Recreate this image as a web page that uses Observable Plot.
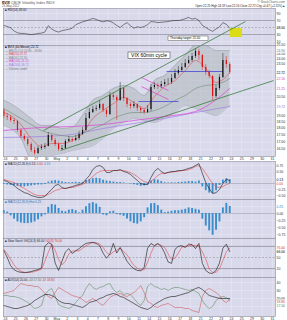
<!DOCTYPE html>
<html>
<head>
<meta charset="utf-8">
<script src="https://cdn.jsdelivr.net/npm/d3@7"></script>
<script src="https://cdn.jsdelivr.net/npm/@observablehq/plot@0.6"></script>
<style>
html,body{margin:0;padding:0;background:#fff;}
#chart{position:relative;width:287px;height:320px;overflow:hidden;}
#chart svg{position:absolute;left:0;overflow:visible;}
</style>
</head>
<body>
<div id="chart"></div>
<script>
// ---------- data (60-minute $VIX, Apr 23 - May 23 2012, 3 samples per session) ----------
const dayLabels = ["24","25","26","27","30","May","2","3","4","7","8","9","10","11","14","15","16","17","18","21","22","23","24","25","29","30","31"];

const firstOpen = 19.39;
const closes = [18.91,
  18.83,18.60,18.52, 17.84,17.40,17.18, 16.83,16.42,16.21, 16.55,16.62,16.69,
  17.47,17.11,16.83, 16.48,16.55,17.04, 17.18,17.11,17.26, 17.55,17.84,18.76,
  19.23,19.47,19.55, 19.88,19.39,19.07, 20.64,20.47,20.22, 21.25,20.38,19.88,
  19.72,19.88,19.55, 19.39,19.23,19.47, 21.34,21.52,21.43, 21.61,21.79,21.79,
  22.16,22.62,22.91, 23.19,23.58,23.88, 24.28,24.79,24.38, 23.19,22.72,22.34,
  20.55,21.25,22.25, 23.88,23.49,22.72];
const highs = [19.55,
  19.15,18.99,18.76, 18.60,17.92,17.55, 17.33,16.97,16.62, 16.69,16.83,16.90,
  17.69,17.55,17.26, 16.97,16.76,17.18, 17.40,17.33,17.47, 17.77,18.07,19.15,
  19.55,19.72,19.80, 20.22,19.96,19.55, 20.90,20.90,20.64, 21.79,21.34,20.47,
  20.05,20.13,19.96, 19.72,19.55,19.80, 21.61,21.79,21.70, 21.88,22.06,22.16,
  22.53,23.00,23.29, 23.58,23.98,24.28, 24.59,25.10,25.00, 24.48,23.49,22.91,
  22.43,21.52,22.53, 24.59,24.28,23.68];
const lows = [18.76,
  18.60,18.45,18.29, 17.69,17.26,17.04, 16.69,16.28,16.08, 16.14,16.42,16.48,
  16.66,16.97,16.69, 16.35,16.42,16.48, 16.97,16.97,17.04, 17.11,17.47,17.77,
  18.68,19.15,19.31, 19.39,19.23,18.83, 18.99,20.22,18.60, 20.13,20.13,19.63,
  19.47,19.55,19.31, 19.15,19.07,19.15, 19.31,21.16,21.16, 21.25,21.43,21.52,
  21.61,22.06,22.43, 22.72,23.10,23.49, 23.68,24.08,23.88, 22.91,22.43,22.16,
  20.22,20.38,21.07, 22.16,23.10,22.53];

// overlays sampled once per session
const bbUpper = [20.22,19.96,19.39,18.76,18.22,18.22,17.99,18.07,18.99,20.22,20.64,21.25,21.52,21.25,20.64,21.97,22.43,23.39,24.38,25.42,25.42,24.90,24.90,24.90];
const bbLower = [18.22,17.99,17.26,15.88,15.75,16.08,16.21,16.42,16.55,16.76,17.26,17.99,18.45,18.76,18.60,18.45,18.76,19.23,19.80,19.55,19.23,18.99,19.55,19.80];
const ma20 = [19.23,18.99,18.29,17.26,16.69,16.90,16.90,17.11,17.62,18.76,19.39,19.96,20.47,20.05,19.55,20.55,21.43,21.97,22.91,23.88,23.10,21.79,22.34,22.72];
const ma50 = [19.55,19.23,18.76,18.29,17.84,17.62,17.47,17.40,17.62,17.99,18.29,18.76,19.07,19.23,19.23,19.39,19.72,20.22,20.64,21.25,21.52,21.61,21.97,22.16];
const slowDays = [-0.17,3.5,6.5,9.5,12.5,15.5,18.5,21.83];
const ma100 = [17.84,18.07,18.14,18.29,18.60,18.91,19.31,21.25];
const ma200 = [17.33,17.40,17.55,17.99,18.37,18.76,19.23,19.72];

// drawn annotations (date position, price)
const channelLines = [{d1:3.70,v1:17.84,d2:23.37,v2:28.09},{d1:5.36,v1:16.42,d2:26.10,v2:21.97}];
const levelLines = [{d1:12.95,d2:16.85,v:20.13},{d1:15.68,d2:21.13,v:22.81}];
const flagLines = [{d1:13.24,v1:22.25,d2:15.87,v2:21.07},{d1:13.24,v1:21.43,d2:15.87,v2:20.30}];
const targetZone = [{d1:21.9,d2:23.08,v1:21.4,v2:47.1}];

// indicators, one per candle
const rsi = [56,53,49,40,35,33,33,31,30,31,33,34,37,55,46,40,37,41,43,45,48,58,62,66,69,72,76,73,69,66,69,68,63,56,50,58,64,55,48,52,50,53,58,67,66,64,65,66,67,69,70,70,72,75,79,74,76,70,56,50,44,39,46,52,64,59,48];
const macdLine = [0.13,0.08,0.0,-0.08,-0.21,-0.29,-0.38,-0.42,-0.5,-0.54,-0.58,-0.58,-0.54,-0.38,-0.25,-0.08,-0.04,-0.17,-0.21,-0.17,-0.13,-0.08,-0.04,0,0.17,0.33,0.58,0.71,0.75,0.67,0.46,0.46,0.54,0.54,0.58,0.5,0.46,0.38,0.25,0.13,0,-0.04,-0.04,0.25,0.5,0.63,0.5,0.42,0.46,0.5,0.5,0.54,0.54,0.58,0.63,0.67,0.75,0.83,0.42,0.04,-0.21,-0.42,-0.38,-0.25,0,0.17,0.13];
const macdSignal = [0.17,0.13,0.08,0.04,-0.04,-0.13,-0.21,-0.29,-0.38,-0.46,-0.5,-0.5,-0.5,-0.46,-0.38,-0.29,-0.25,-0.21,-0.21,-0.17,-0.17,-0.13,-0.08,-0.04,0.04,0.17,0.29,0.42,0.5,0.54,0.54,0.54,0.54,0.54,0.54,0.54,0.5,0.46,0.38,0.29,0.17,0.08,0.04,0.08,0.21,0.33,0.42,0.42,0.46,0.46,0.5,0.5,0.54,0.54,0.58,0.63,0.71,0.75,0.63,0.42,0.21,0,-0.13,-0.17,-0.13,-0.04,0];
const macdHist = [-0.04,-0.06,-0.08,-0.1,-0.12,-0.14,-0.14,-0.12,-0.1,-0.08,-0.06,-0.06,-0.04,0.06,0.1,0.12,0.1,0.06,0.04,0.03,0.04,0.05,0.04,0.05,0.12,0.16,0.2,0.22,0.2,0.14,0.1,0.08,0.06,0.04,0.04,0.02,0,-0.02,-0.05,-0.08,-0.12,-0.1,-0.06,0.1,0.16,0.14,0.08,0.03,0.02,0.03,0.02,0.04,0.05,0.06,0.08,0.08,0.06,0.1,-0.14,-0.3,-0.4,-0.42,-0.3,-0.08,0.14,0.2,0.15];
const hist2 = [0.1,0.05,-0.08,-0.2,-0.3,-0.34,-0.36,-0.36,-0.34,-0.3,-0.22,-0.12,-0.05,0.22,0.32,0.3,0.18,0.08,0.06,0.12,0.14,0.1,0.02,0.12,0.24,0.35,0.39,0.34,0.22,-0.05,-0.08,0.06,0.08,-0.04,-0.06,-0.1,-0.2,-0.3,-0.36,-0.38,-0.3,-0.15,0.2,0.35,0.36,0.28,0.12,0.03,0.05,0.08,0.1,0.1,0.12,0.15,0.2,0.18,0.15,0.12,-0.2,-0.45,-0.62,-0.78,-0.6,-0.3,0.2,0.36,0.25];
const stochK = [69,50,28,17,12,10,9,10,12,15,17,22,80,90,86,35,15,40,65,74,61,68,74,82,88,90,91,88,82,62,48,60,88,62,77,58,40,28,20,15,14,23,75,88,82,88,80,62,38,34,72,80,82,77,86,85,74,88,34,15,8,7,15,35,75,86,66];
const stochD = [72,60,45,30,19,13,10,10,10,12,15,18,40,64,85,70,45,30,40,60,67,68,68,75,81,87,90,90,87,77,64,57,65,70,76,66,58,42,29,21,16,17,37,62,82,86,83,77,60,45,48,62,78,80,82,83,82,82,65,46,19,10,10,19,42,65,76];
const adx = [11.3,10,8.8,7.5,7.5,8.8,10,11.3,13.8,17.5,20,22.5,25,25,23.8,21.3,17.5,15,13.8,13.8,12.5,11.3,10,8.8,11.3,15,16.3,17.5,20,21.3,23.8,25,26.3,25,22.5,21.3,18.8,16.3,13.8,11.3,8.8,7.5,6.3,8.8,12.5,15,17.5,20,21.3,22.5,22.5,23.8,25,26.3,27.5,30,32.5,33.8,31.3,27.5,23.8,22.5,21.3,20,20,20,20];
const plusDI = [23.8,23.8,22.5,22.5,21.3,20,17.5,15,11.3,7.5,8.8,11.3,25,30,32.5,22.5,12.5,10,8.8,7.5,10,15,20,23.8,32.5,38.8,33.8,31.3,33.8,35,37.5,38.8,31.3,27.5,30,25,26.3,25,20,15,11.3,17.5,35,38.8,35,33.8,31.3,32.5,30,32.5,33.8,33.8,32.5,31.3,30,31.3,28.8,26.3,17.5,11.3,7.5,10,17.5,21.3,22.5,21.3,17.5];
const minusDI = [26.3,27.5,28.8,30,35,38.8,37.5,36.3,36.3,35,35,31.3,26.3,22.5,20,27.5,33.8,31.3,28.8,26.3,23.8,22.5,21.3,18.8,15,17.5,20,17.5,13.8,11.3,16.3,21.3,23.8,25,26.3,23.8,22.5,25,27.5,31.3,36.3,27.5,16.3,13.8,10,8.8,11.3,12.5,13.8,11.3,8.8,8.8,8.8,7.5,7.5,5,3.8,2.5,22.5,30,32.5,30,27.5,23.8,17.5,15,18.8];

// ---------- styling / helpers ----------
const BG = "#d9d9ec", GRID = "#e8e8f4", FRAME = "#8a8a9c";
const FONT = "Liberation Sans, Arial, sans-serif";
const W = 287, ML = 3, MR = 12;
const xDomain = [-0.195, 26.29];
const f2 = d3.format(".2f");
const at = k => (k - 0.5) / 3;
const series = arr => arr.map((v, k) => ({d: at(k), v}));
const dayPoints = [-0.17, ...d3.range(22).map(i => i + 0.5), 21.83];
const bands = dayPoints.map((d, i) => ({d, hi: bbUpper[i], lo: bbLower[i], m20: ma20[i], m50: ma50[i]}));
const slow = slowDays.map((d, i) => ({d, m100: ma100[i], m200: ma200[i]}));
const candles = closes.map((c, k) => ({d: at(k), open: k ? closes[k - 1] : firstOpen, close: c, high: highs[k], low: lows[k]}));
const upC = candles.filter(c => c.close >= c.open), dnC = candles.filter(c => c.close < c.open);
const last = a => a[a.length - 1];

function panel({top, height, mb = 0, yDomain, yType = "linear", yTicks, yFmt = f2, xAxis = false, marks, tags = []}) {
  const h = height - mb;
  const ys = (yType === "log" ? d3.scaleLog() : d3.scaleLinear()).domain(yDomain).range([h, 0]);
  // value tags on the right axis: keep them apart, hide tick labels they cover
  const pos = tags.map(t => ({...t, p: ys(t.v)})).sort((a, b) => a.p - b.p);
  for (let i = 1; i < pos.length; i++) if (pos[i].p - pos[i - 1].p < 3.6) pos[i].p = pos[i - 1].p + 3.6;
  const labelTicks = yTicks.filter(t => pos.every(q => Math.abs(ys(t) - q.p) > 3.5));
  const tagMarks = pos.map(q => Plot.text([q.v], {
    x: () => xDomain[1], y: d => d, dy: q.p - ys(q.v), text: d => (q.fmt || yFmt)(d),
    dx: 1, textAnchor: "start", fill: q.color, stroke: "white", strokeWidth: 1.4, fontSize: 3.4
  }));
  const svg = Plot.plot({
    width: W, height, marginLeft: ML, marginRight: MR, marginTop: 0, marginBottom: mb,
    style: {background: "transparent", fontSize: "3.5px", fontFamily: FONT, color: "#333", overflow: "visible"},
    x: {domain: xDomain, axis: xAxis ? "bottom" : null, ticks: d3.range(27), tickFormat: i => dayLabels[i], tickSize: 0, tickPadding: 1.2, label: null},
    y: {type: yType, domain: yDomain, axis: "right", ticks: labelTicks, tickFormat: yFmt, tickSize: 0, tickPadding: 1, label: null},
    marks: [
      Plot.frame({fill: BG}),
      Plot.ruleX(d3.range(27), {stroke: GRID, strokeWidth: 0.5}),
      Plot.ruleY(yTicks, {stroke: GRID, strokeWidth: 0.5}),
      ...marks,
      Plot.frame({stroke: FRAME, strokeWidth: 0.6}),
      ...tagMarks
    ]
  });
  svg.style.top = top + "px";
  document.getElementById("chart").appendChild(svg);
}

// ---------- RSI panel ----------
panel({top: 8, height: 37, yDomain: [-1.4, 104.3], yTicks: [10, 30, 50, 70, 90], yFmt: d3.format("d"),
  tags: [{v: last(rsi), color: "#000", fmt: f2}], marks: [
  Plot.ruleY([30, 70], {stroke: "#7a7a88", strokeWidth: 0.6}),
  Plot.ruleY([50], {stroke: "#7a7a88", strokeWidth: 0.5, strokeDasharray: "2,1.5"}),
  Plot.line(series(rsi), {x: "d", y: "v", stroke: "#222", strokeWidth: 0.55}),
  Plot.rect(targetZone, {x1: "d1", x2: "d2", y1: "v1", y2: "v2", fill: "#dcdc14"})
]});

// ---------- price panel ----------
const priceTicks = d3.range(16.5, 25.51, 0.5);
panel({top: 45, height: 116, mb: 5, yType: "log", yDomain: [16.01, 25.42], yTicks: priceTicks, xAxis: true,
  tags: [
    {v: last(bbUpper), color: "#6d7880"},
    {v: last(closes), color: "#000"},
    {v: last(ma50), color: "#d84a9a"},
    {v: last(ma100), color: "#d040c8"},
    {v: last(ma200), color: "#9070d8"}
  ], marks: [
  Plot.areaY(bands, {x: "d", y1: "lo", y2: "hi", fill: "#a9b3b6", fillOpacity: 0.5, curve: "monotone-x", clip: true}),
  Plot.line(bands, {x: "d", y: "hi", stroke: "#949ea4", strokeWidth: 0.5, curve: "monotone-x", clip: true}),
  Plot.line(bands, {x: "d", y: "lo", stroke: "#949ea4", strokeWidth: 0.5, curve: "monotone-x", clip: true}),
  Plot.line(slow, {x: "d", y: "m200", stroke: "#a07ce6", strokeWidth: 0.7, curve: "monotone-x", clip: true}),
  Plot.line(slow, {x: "d", y: "m100", stroke: "#e040d6", strokeWidth: 0.7, curve: "monotone-x", clip: true}),
  Plot.line(bands, {x: "d", y: "m50", stroke: "#6f8c74", strokeWidth: 0.6, curve: "monotone-x", clip: true}),
  Plot.line(bands, {x: "d", y: "m20", stroke: "#e24a4a", strokeWidth: 0.6, curve: "monotone-x", clip: true}),
  Plot.link(levelLines, {x1: "d1", x2: "d2", y1: "v", y2: "v", stroke: "#4646d8", strokeWidth: 0.8}),
  Plot.link(flagLines, {x1: "d1", x2: "d2", y1: "v1", y2: "v2", stroke: "#e03cc8", strokeWidth: 0.7}),
  Plot.ruleX(upC, {x: "d", y1: "low", y2: "high", stroke: "#111", strokeWidth: 0.45}),
  Plot.ruleX(upC, {x: "d", y1: "open", y2: "close", stroke: "#111", strokeWidth: 1.2}),
  Plot.ruleX(dnC, {x: "d", y1: "low", y2: "high", stroke: "#e01010", strokeWidth: 0.45}),
  Plot.ruleX(dnC, {x: "d", y1: "open", y2: "close", stroke: "#e01010", strokeWidth: 1.2}),
  Plot.link(channelLines, {x1: "d1", x2: "d2", y1: "v1", y2: "v2", stroke: "#3d7d3d", strokeWidth: 0.8})
]});

// ---------- MACD panel ----------
panel({top: 161, height: 38, yDomain: [-0.667, 0.917], yTicks: [-0.5, -0.25, 0, 0.25, 0.5, 0.75],
  tags: [{v: last(macdLine), color: "#000"}, {v: last(macdSignal), color: "#e03030"}], marks: [
  Plot.ruleY([0], {stroke: "#8a8a98", strokeWidth: 0.5}),
  Plot.ruleX(series(macdHist), {x: "d", y1: 0, y2: "v", stroke: "#3a8dcc", strokeWidth: 1.8}),
  Plot.line(series(macdSignal), {x: "d", y: "v", stroke: "#e34a4a", strokeWidth: 0.6}),
  Plot.line(series(macdLine), {x: "d", y: "v", stroke: "#111", strokeWidth: 0.6})
]});

// ---------- histogram panel ----------
panel({top: 199, height: 39, yDomain: [-0.893, 0.5], yTicks: [-0.75, -0.5, -0.25, 0, 0.25],
  tags: [{v: last(hist2), color: "#2a7dbc"}], marks: [
  Plot.ruleY([0], {stroke: "#8a8a98", strokeWidth: 0.5}),
  Plot.ruleX(series(hist2), {x: "d", y1: 0, y2: "v", stroke: "#3a8dcc", strokeWidth: 1.9})
]});

// ---------- stochastic panel ----------
panel({top: 238, height: 39, yDomain: [-4.05, 101.35], yTicks: [20, 50, 80], yFmt: d3.format("d"),
  tags: [{v: last(stochK), color: "#000", fmt: f2}, {v: last(stochD), color: "#e03030", fmt: f2}], marks: [
  Plot.ruleY([20, 80], {stroke: "#6a6a78", strokeWidth: 0.6}),
  Plot.ruleY([50], {stroke: "#7a7a88", strokeWidth: 0.5, strokeDasharray: "2,1.5"}),
  Plot.line(series(stochD), {x: "d", y: "v", stroke: "#e34a4a", strokeWidth: 0.6}),
  Plot.line(series(stochK), {x: "d", y: "v", stroke: "#111", strokeWidth: 0.6})
]});

// ---------- ADX panel ----------
panel({top: 277, height: 43, mb: 4, yDomain: [-2.5, 46.25], yTicks: [10, 20, 30, 40], yFmt: d3.format("d"), xAxis: true,
  tags: [{v: last(adx), color: "#000", fmt: f2}, {v: last(minusDI), color: "#d04040", fmt: f2}, {v: last(plusDI), color: "#4f7f4f", fmt: f2}], marks: [
  Plot.line(series(plusDI), {x: "d", y: "v", stroke: "#5f8f5f", strokeWidth: 0.6}),
  Plot.line(series(minusDI), {x: "d", y: "v", stroke: "#d05a5a", strokeWidth: 0.6}),
  Plot.line(series(adx), {x: "d", y: "v", stroke: "#111", strokeWidth: 0.6})
]});

// ---------- header, legends, annotations ----------
const ov = d3.select("#chart").append("svg").attr("width", 287).attr("height", 320)
  .style("top", "0px").style("font-family", FONT);
function txt(x, y, s, size, fill, o = {}) {
  const t = ov.append("text").attr("x", x).attr("y", y).attr("font-size", size).attr("fill", fill).text(s);
  if (o.anchor) t.attr("text-anchor", o.anchor);
  if (o.bold) t.attr("font-weight", "bold");
  return t;
}
const dOpen = closes[closes.length - 4], dClose = last(closes);
const dHigh = d3.max(highs.slice(-3)), dLow = d3.min(lows.slice(-3));
const chg = dClose - dOpen;

const h1 = txt(2, 3.6, "", 3.6, "#000");
h1.append("tspan").attr("font-weight", "bold").text("$VIX");
h1.append("tspan").attr("fill", "#555").text("  CBOE Volatility Index  INDX");
txt(285, 3.4, "© StockCharts.com", 3.2, "#666", {anchor: "end"});
txt(2, 7.2, "23-May-2012", 2.9, "#555");
txt(285, 7.0, `Open ${f2(dOpen)}  High ${f2(dHigh)}  Low ${f2(dLow)}  Close ${f2(dClose)}  Chg +${f2(chg)} (+${f2(chg / dOpen * 100)}%)▲`, 2.9, "#222", {anchor: "end"});

txt(5, 11, `■ RSI(14) ${f2(last(rsi))}`, 3, "#222");

const legend = [
  [`■ $VIX (60 Minute) ${f2(dClose)}`, "#000"],
  [`— BB(20,2.0) ${f2(last(bbUpper))} - ${f2(last(bbLower))}`, "#6f7b84"],
  [`— MA(20) ${f2(last(ma20))}`, "#e04040"],
  [`— MA(50) ${f2(last(ma50))}`, "#6d8a72"],
  [`— MA(100) ${f2(last(ma100))}`, "#d83ad0"],
  [`— MA(200) ${f2(last(ma200))}`, "#9a78e0"],
  ["— Volume undef", "#777"]
];
legend.forEach(([s, c], i) => txt(5, 48 + i * 3.6, s, 3, c));

const mc = txt(5, 164.5, `■ MACD(12,26,9) ${f2(last(macdLine))}, `, 3, "#222");
mc.append("tspan").attr("fill", "#e03030").text(`${f2(last(macdSignal))}, `);
mc.append("tspan").attr("fill", "#2a7dbc").text(f2(last(macdHist)));
txt(5, 202.5, `■ MACD(12,26,9) Hist ${f2(last(hist2))}`, 3, "#2a6da8");
const st = txt(5, 241.5, `■ Slow Stoch %K(14,3) ${f2(last(stochK))} `, 3, "#222");
st.append("tspan").attr("fill", "#e03030").text(`%D(3) ${f2(last(stochD))}`);
const ad = txt(5, 280.5, `■ ADX(14) ${f2(last(adx))} `, 3, "#222");
ad.append("tspan").attr("fill", "#4f7f4f").text(`+DI ${f2(last(plusDI))} `);
ad.append("tspan").attr("fill", "#d04040").text(`-DI ${f2(last(minusDI))}`);

// annotation boxes
ov.append("rect").attr("x", 128).attr("y", 52).attr("width", 42).attr("height", 6.5)
  .attr("fill", "#fff").attr("stroke", "#333").attr("stroke-width", 0.5);
txt(149, 57, "VIX 60min cycle", 5, "#000", {anchor: "middle"});
ov.append("rect").attr("x", 168).attr("y", 36).attr("width", 40).attr("height", 4.6)
  .attr("fill", "#fff").attr("stroke", "#333").attr("stroke-width", 0.4);
txt(170, 39.4, "Thursday target: 21.50", 3, "#000");
</script>
</body>
</html>
